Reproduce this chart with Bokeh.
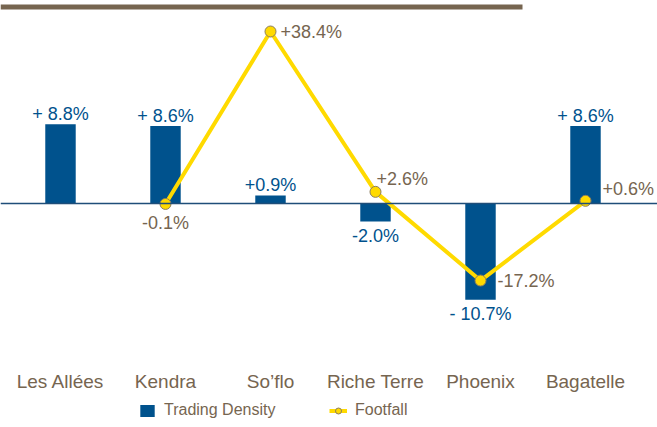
from bokeh.plotting import figure
from bokeh.models import (Range1d, Span, BoxAnnotation, Legend, LegendItem,
                          ColumnDataSource, LabelSet)
from bokeh.embed import file_html
from bokeh.resources import INLINE
from bokeh.core.properties import value

# ---------------- data ----------------
categories = ["Les Allées", "Kendra", "So’flo", "Riche Terre", "Phoenix", "Bagatelle"]
trading_density = [8.8, 8.6, 0.9, -2.0, -10.7, 8.6]
trading_density_labels = ["+ 8.8%", "+ 8.6%", "+0.9%", "-2.0%", "- 10.7%", "+ 8.6%"]

footfall_categories = ["Kendra", "So’flo", "Riche Terre", "Phoenix", "Bagatelle"]
footfall = [-0.1, 38.4, 2.6, -17.2, 0.6]
footfall_labels = ["-0.1%", "+38.4%", "+2.6%", "-17.2%", "+0.6%"]

# ---------------- styles ----------------
FONT = "Liberation Sans"
BLUE = "#00528D"
BROWN = "#766550"
GOLD = "#FFDA00"
MARKER_LINE = "#8C7D5F"
WIDTH, HEIGHT = 657, 427
ZERO_PX = 203          # pixel row of the zero line from the top
CAT_LABEL_PX = 46      # category-name row, px up from the bottom
BAR_PX = 9.0           # px per percent (bars)
FF_PX = 4.479          # px per percent (footfall)

# label placement for footfall labels (align, baseline, x offset, y offset)
ff_align = ["center", "left", "left", "left", "left"]
ff_baseline = ["top", "middle", "middle", "middle", "middle"]
ff_xoff = [0, 10, 1, 17, 17]
ff_yoff = [9, 0, -13, 0, -12]

idx = {c: i for i, c in enumerate(categories)}

cat_src = ColumnDataSource(dict(x=[idx[c] for c in categories], name=categories))

bar_src = ColumnDataSource(dict(
    x=[idx[c] for c in categories],
    top=trading_density,
    label=trading_density_labels,
    baseline=["bottom" if v >= 0 else "top" for v in trading_density],
    yoff=[0 if v >= 0 else 4 for v in trading_density],
))

ff_src = ColumnDataSource(dict(
    x=[idx[c] for c in footfall_categories],
    y=footfall,
    label=footfall_labels,
    align=ff_align,
    baseline=ff_baseline,
    xoff=ff_xoff,
    yoff=ff_yoff,
))

p = figure(width=WIDTH, height=HEIGHT,
           x_range=Range1d(-0.5714, 5.6857),
           y_range=Range1d(-(HEIGHT - ZERO_PX) / BAR_PX, ZERO_PX / BAR_PX),
           x_axis_location=None, y_axis_location=None,
           output_backend="svg", toolbar_location=None,
           min_border=0, outline_line_color=None,
           background_fill_color="white", border_fill_color="white")
p.extra_y_ranges = {"footfall": Range1d(-(HEIGHT - ZERO_PX) / FF_PX, ZERO_PX / FF_PX)}
p.xgrid.visible = False
p.ygrid.visible = False

# top decorative brown rule (screen units measured up from the frame bottom)
p.add_layout(BoxAnnotation(left=0, right=522, top=HEIGHT - 4, bottom=HEIGHT - 9,
                           left_units="screen", right_units="screen",
                           top_units="screen", bottom_units="screen",
                           fill_color=BROWN, fill_alpha=1, line_color=None,
                           level="overlay"))

# zero line
p.add_layout(Span(location=0, dimension="width", line_color="#1F4E79", line_width=1.5))

bars = p.vbar(x="x", top="top", bottom=0, width=0.29, source=bar_src,
              fill_color=BLUE, line_color=None)
p.text(x="x", y="top", text="label", source=bar_src,
       text_align="center", text_baseline="baseline", y_offset="yoff",
       text_font=value(FONT), text_font_size="18px", text_color=BLUE)

line = p.line(x="x", y="y", source=ff_src, y_range_name="footfall",
              line_color=GOLD, line_width=4)
pts = p.scatter(x="x", y="y", source=ff_src, y_range_name="footfall",
                size=11, fill_color=GOLD, line_color=MARKER_LINE, line_width=1)
p.text(x="x", y="y", text="label", source=ff_src, y_range_name="footfall",
       text_align="align", text_baseline="baseline", x_offset="xoff", y_offset="yoff",
       text_font=value(FONT), text_font_size="18px", text_color=BROWN)

# category names row
p.add_layout(LabelSet(x="x", y=CAT_LABEL_PX, y_units="screen", text="name",
                      source=cat_src, text_align="center", text_baseline="middle",
                      text_font=value(FONT), text_font_size="19px",
                      text_color=BROWN))

legend = Legend(items=[LegendItem(label="Trading Density", renderers=[bars]),
                       LegendItem(label="Footfall", renderers=[line, pts])],
                orientation="horizontal", location=(138, 8),
                glyph_width=18, glyph_height=15, label_height=17, label_width=165,
                label_standoff=8, spacing=0, padding=0, margin=0,
                border_line_color=None, background_fill_alpha=0,
                label_text_font=FONT, label_text_font_size="16px",
                label_text_color=BROWN)
p.add_layout(legend)

open("out.html", "w").write(file_html(p, INLINE))
